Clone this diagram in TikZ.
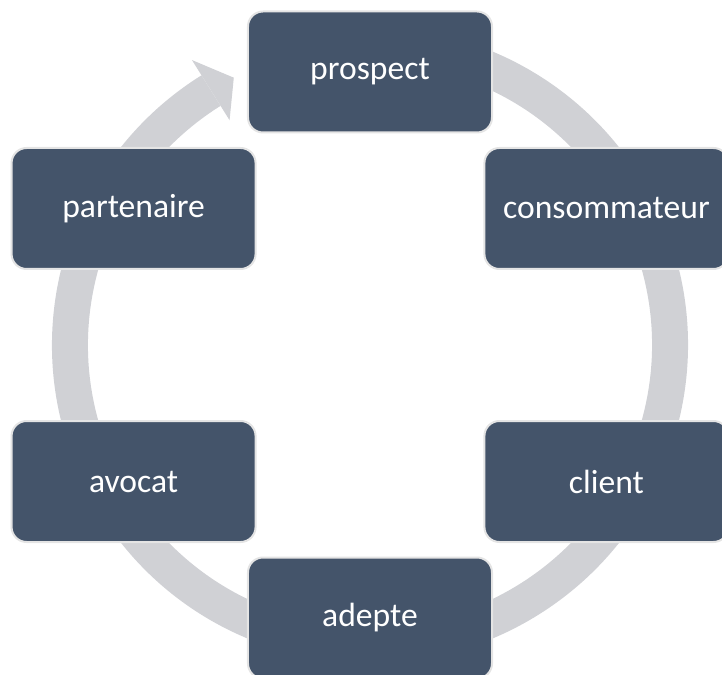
\documentclass[tikz,border=0pt]{standalone}
\usepackage{fontspec}
\setmainfont{Carlito}
\definecolor{boxc}{HTML}{44546A}
\definecolor{ringc}{HTML}{D0D1D5}
\definecolor{bordc}{HTML}{E4E4E4}
\begin{document}
\begin{tikzpicture}[x=1pt,y=1pt,
  stagebox/.style={rectangle, rounded corners=15pt, minimum width=244pt, minimum height=121pt,
    fill=boxc, draw=bordc, line width=2pt, text=white, inner sep=0pt,
    font=\fontsize{33.6}{40}\selectfont}]
\useasboundingbox (-370,-329) rectangle (352,345);
\clip (-370,-329) rectangle (352,345);
% ring with arrowhead
\fill[ringc] (122:318) arc[start angle=122,end angle=435,radius=318]
  -- (435:282) arc[start angle=435,end angle=122,radius=282] -- cycle;
\fill[ringc] (122:336) -- (117:300) -- (122:265) -- cycle;
% stages
\node[stagebox] (prospect) at (90:273) {prospect};
\node[stagebox] (consommateur) at (30:273) {consommateur};
\node[stagebox] (client) at (-30:273) {client};
\node[stagebox] (adepte) at (-90:273) {adepte};
\node[stagebox] (avocat) at (-150:273) {avocat};
\node[stagebox] (partenaire) at (150:273) {partenaire};
\end{tikzpicture}
\end{document}
